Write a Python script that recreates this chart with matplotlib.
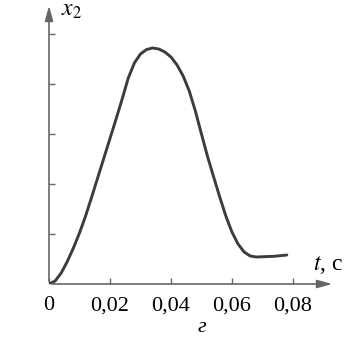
import matplotlib.pyplot as plt

plt.rcParams['font.family'] = 'Liberation Serif'
plt.rcParams['mathtext.fontset'] = 'stix'

# curve
t = [0, 0.002, 0.004, 0.006, 0.008, 0.010, 0.012, 0.014, 0.016, 0.018,
     0.020, 0.022, 0.024, 0.026, 0.028, 0.030, 0.032, 0.034, 0.036, 0.038,
     0.040, 0.042, 0.044, 0.046, 0.048, 0.050, 0.052, 0.054, 0.056, 0.058,
     0.060, 0.062, 0.064, 0.066, 0.068, 0.070, 0.074, 0.078]
x2 = [0, 0.06, 0.22, 0.45, 0.72, 1.02, 1.36, 1.74, 2.13, 2.52,
      2.91, 3.30, 3.70, 4.12, 4.42, 4.60, 4.69, 4.72, 4.70, 4.64,
      4.54, 4.38, 4.16, 3.86, 3.46, 3.00, 2.55, 2.14, 1.74, 1.36,
      1.04, 0.80, 0.64, 0.56, 0.54, 0.545, 0.555, 0.58]

xticks = [0, 0.02, 0.04, 0.06, 0.08]
xticklabels = ["0", "0,02", "0,04", "0,06", "0,08"]
yticks = [1, 2, 3, 4, 5]

W, H = 344, 337
fig = plt.figure(figsize=(W / 100, H / 100), dpi=100)
ax = fig.add_axes([49 / W, (H - 284) / H, (335 - 49) / W, (284 - 3) / H])

ax.plot(t, x2, color="#3c3c3c", lw=2.1, solid_capstyle="round",
        solid_joinstyle="round")

ax.set_xlim(0, 0.0938)
ax.set_ylim(0, 5.62)
for s in ax.spines.values():
    s.set_visible(False)

axis_col = "#666666"
arrow = dict(arrowstyle="-|>,head_length=0.9,head_width=0.25", color=axis_col, lw=1.2)
ax.annotate("", xy=(1, 0), xytext=(0, 0), xycoords="axes fraction", arrowprops=arrow)
ax.annotate("", xy=(0, 1), xytext=(0, 0), xycoords="axes fraction", arrowprops=arrow)

ax.set_xticks(xticks)
ax.set_xticklabels(xticklabels)
ax.set_yticks(yticks)
ax.set_yticklabels([])
ax.tick_params(direction="in", length=4, width=1, color=axis_col,
               labelsize=16, pad=9)

fig.text(61 / W, 1 - 11 / H, r"$x_2$", fontsize=17, va="center", ha="left")
fig.text(313 / W, 1 - 265 / H, r"$t$, c", fontsize=17, va="center", ha="left")
fig.text(202 / W, 1 - 328 / H, "г", fontsize=16, style="italic", va="center", ha="center")

fig.savefig("out.png", dpi=100)
